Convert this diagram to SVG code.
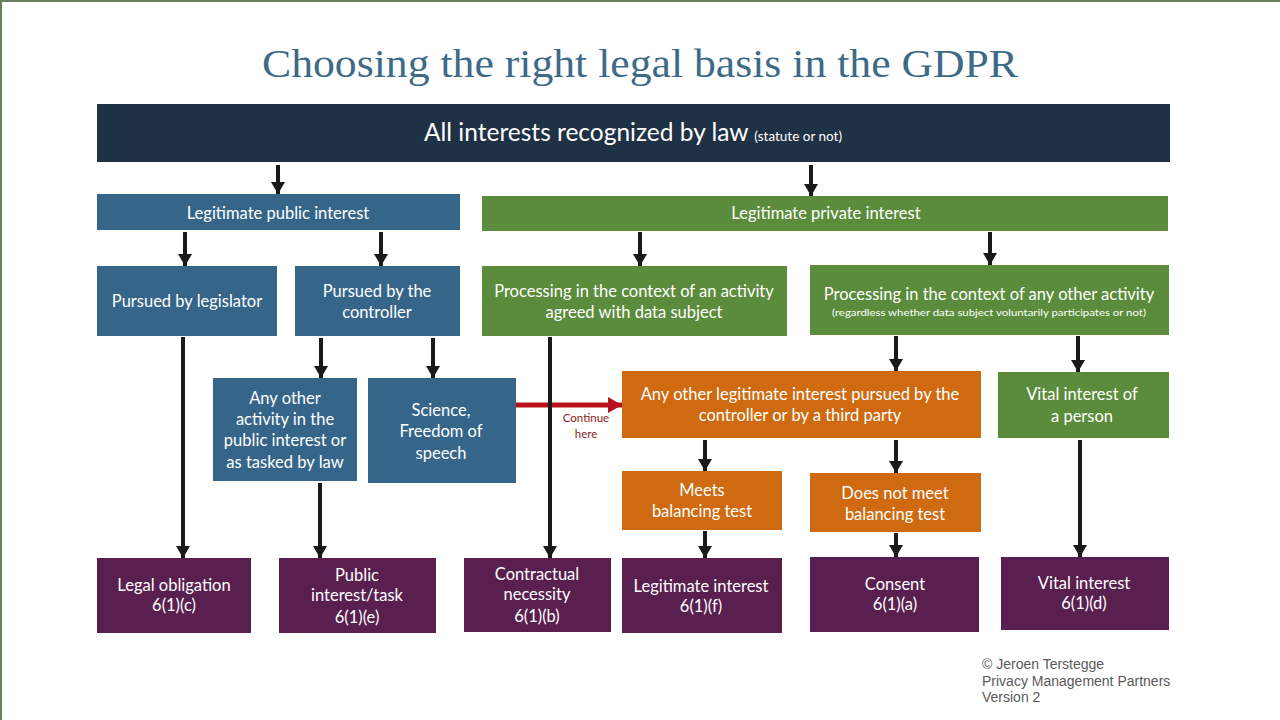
<svg xmlns="http://www.w3.org/2000/svg" width="1280" height="720" viewBox="0 0 1280 720">
<defs>
<marker id="ah" markerUnits="userSpaceOnUse" markerWidth="12" markerHeight="14" refX="12" refY="7" orient="auto" viewBox="0 0 12 14">
<path d="M0,0 L12,7 L0,14 Z" fill="#1a1a1a"/>
</marker>
<marker id="ahr" markerUnits="userSpaceOnUse" markerWidth="14" markerHeight="16" refX="14" refY="8" orient="auto" viewBox="0 0 14 16">
<path d="M0,0 L14,8 L0,16 Z" fill="#b5121b"/>
</marker>
<style>
.t{font-family:Lato,"Open Sans","Liberation Sans",sans-serif;font-size:16.5px;fill:#ffffff;text-anchor:middle}
.pub{fill:#36658a}
.grn{fill:#5b8c3c}
.org{fill:#d06a10}
.pur{fill:#581f4f}
.c line{stroke:#1a1a1a;stroke-width:4;marker-end:url(#ah)}
</style>
</defs>
<rect x="0" y="0" width="1280" height="720" fill="#ffffff"/>
<path d="M1,720 V1 H1280" fill="none" stroke="#6b7f5e" stroke-width="2"/>
<text x="640" y="77" font-family="Liberation Serif,serif" font-size="41" fill="#3d6a86" text-anchor="middle" textLength="756" lengthAdjust="spacingAndGlyphs">Choosing the right legal basis in the GDPR</text>

<g id="all">
<rect x="97" y="104" width="1073" height="58" fill="#1f3145"/>
<text class="t" x="633" y="141" style="font-size:24.5px">All interests recognized by law <tspan style="font-size:13.5px">(statute or not)</tspan></text>
</g>
<g id="public">
<rect class="pub" x="97" y="194" width="363" height="36"/>
<text class="t" x="278" y="219">Legitimate public interest</text>
</g>
<g id="private">
<rect class="grn" x="482" y="196" width="686" height="35"/>
<text class="t" x="826" y="219">Legitimate private interest</text>
</g>
<g id="legislator">
<rect class="pub" x="97" y="266" width="180" height="70"/>
<text class="t" x="187" y="307">Pursued by legislator</text>
</g>
<g id="controller">
<rect class="pub" x="295" y="266" width="165" height="70"/>
<text class="t" x="377" y="297">Pursued by the</text>
<text class="t" x="377" y="318">controller</text>
</g>
<g id="agreed">
<rect class="grn" x="482" y="266" width="305" height="70"/>
<text class="t" x="634" y="297">Processing in the context of an activity</text>
<text class="t" x="634" y="318">agreed with data subject</text>
</g>
<g id="anyactivity">
<rect class="grn" x="810" y="265" width="359" height="70"/>
<text class="t" x="989" y="300">Processing in the context of any other activity</text>
<text class="t" x="989" y="316" style="font-size:10px" textLength="314" lengthAdjust="spacingAndGlyphs">(regardless whether data subject voluntarily participates or not)</text>
</g>
<g id="otherpublic">
<rect class="pub" x="213" y="378" width="144" height="103"/>
<text class="t" x="285" y="404">Any other</text>
<text class="t" x="285" y="425">activity in the</text>
<text class="t" x="285" y="446">public interest or</text>
<text class="t" x="285" y="468">as tasked by law</text>
</g>
<g id="science">
<rect class="pub" x="368" y="378" width="148" height="105"/>
<text class="t" x="441" y="416">Science,</text>
<text class="t" x="441" y="437">Freedom of</text>
<text class="t" x="441" y="459">speech</text>
</g>
<g id="otherlegit">
<rect class="org" x="622" y="371" width="359" height="67"/>
<text class="t" x="800" y="400">Any other legitimate interest pursued by the</text>
<text class="t" x="800" y="421">controller or by a third party</text>
</g>
<g id="vitalperson">
<rect class="grn" x="998" y="372" width="171" height="66"/>
<text class="t" x="1082" y="400">Vital interest of</text>
<text class="t" x="1082" y="422">a person</text>
</g>
<g id="meets">
<rect class="org" x="622" y="471" width="160" height="59"/>
<text class="t" x="702" y="496">Meets</text>
<text class="t" x="702" y="517">balancing test</text>
</g>
<g id="notmeets">
<rect class="org" x="810" y="473" width="171" height="59"/>
<text class="t" x="895" y="499">Does not meet</text>
<text class="t" x="895" y="520">balancing test</text>
</g>
<g id="legal">
<rect class="pur" x="97" y="558" width="154" height="75"/>
<text class="t" x="174" y="591">Legal obligation</text>
<text class="t" x="174" y="611">6(1)(c)</text>
</g>
<g id="publictask">
<rect class="pur" x="279" y="558" width="157" height="75"/>
<text class="t" x="357" y="581">Public</text>
<text class="t" x="357" y="601">interest/task</text>
<text class="t" x="357" y="623">6(1)(e)</text>
</g>
<g id="contract">
<rect class="pur" x="464" y="558" width="147" height="74"/>
<text class="t" x="537" y="580">Contractual</text>
<text class="t" x="537" y="600">necessity</text>
<text class="t" x="537" y="622">6(1)(b)</text>
</g>
<g id="legitimate">
<rect class="pur" x="622" y="558" width="160" height="75"/>
<text class="t" x="701" y="592">Legitimate interest</text>
<text class="t" x="701" y="612">6(1)(f)</text>
</g>
<g id="consent">
<rect class="pur" x="810" y="557" width="169" height="75"/>
<text class="t" x="895" y="590">Consent</text>
<text class="t" x="895" y="610">6(1)(a)</text>
</g>
<g id="vital">
<rect class="pur" x="1001" y="557" width="168" height="73"/>
<text class="t" x="1084" y="589">Vital interest</text>
<text class="t" x="1084" y="609">6(1)(d)</text>
</g>

<g id="connectors" class="c">
<line x1="516" y1="405" x2="622" y2="405" style="stroke:#b5121b;stroke-width:5;marker-end:url(#ahr)"/>
<text x="586" y="422" font-family="Lato,'Open Sans',sans-serif" font-size="11.5" fill="#8b1a1a" text-anchor="middle">Continue</text>
<text x="586" y="438" font-family="Lato,'Open Sans',sans-serif" font-size="11.5" fill="#8b1a1a" text-anchor="middle">here</text>
<line x1="278" y1="165" x2="278" y2="194"/>
<line x1="811" y1="165" x2="811" y2="196"/>
<line x1="185" y1="232" x2="185" y2="266"/>
<line x1="381" y1="232" x2="381" y2="266"/>
<line x1="640" y1="232" x2="640" y2="266"/>
<line x1="990" y1="232" x2="990" y2="265"/>
<line x1="183" y1="337" x2="183" y2="558"/>
<line x1="321" y1="338" x2="321" y2="378"/>
<line x1="433" y1="338" x2="433" y2="378"/>
<line x1="550" y1="337" x2="550" y2="558"/>
<line x1="896" y1="336" x2="896" y2="371"/>
<line x1="1078" y1="336" x2="1078" y2="372"/>
<line x1="705" y1="440" x2="705" y2="471"/>
<line x1="896" y1="440" x2="896" y2="473"/>
<line x1="320" y1="483" x2="320" y2="558"/>
<line x1="1080" y1="440" x2="1080" y2="557"/>
<line x1="705" y1="531" x2="705" y2="558"/>
<line x1="896" y1="533" x2="896" y2="557"/>
</g>

<g id="credits" font-family="Liberation Sans,Arial,sans-serif" font-size="14" fill="#595959">
<text x="982" y="669">© Jeroen Terstegge</text>
<text x="982" y="686">Privacy Management Partners</text>
<text x="982" y="702">Version 2</text>
</g>
</svg>
